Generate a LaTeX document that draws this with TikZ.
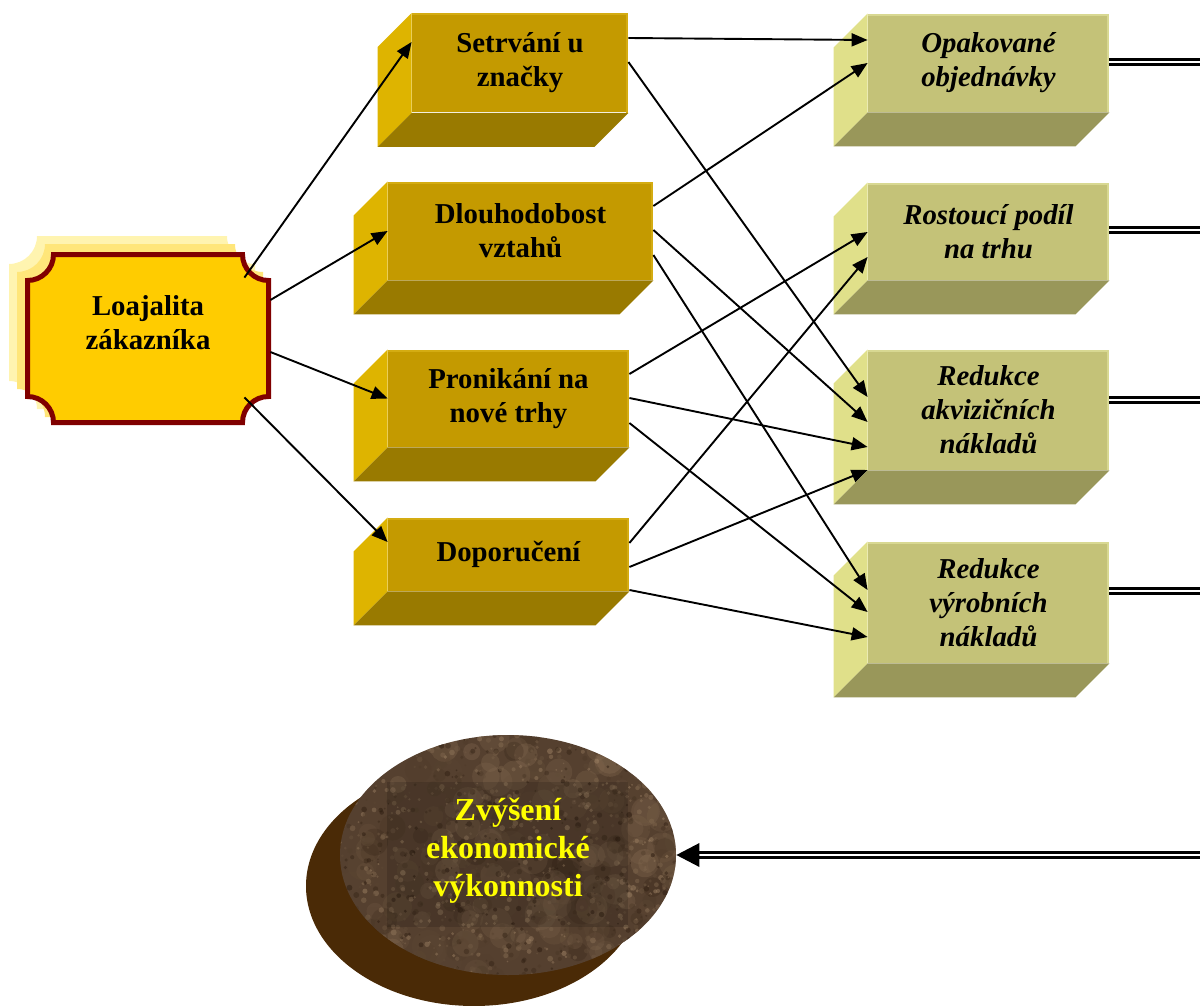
\documentclass[tikz,border=0pt]{standalone}
\usepackage{fontspec}
\setmainfont{Liberation Serif}
\usetikzlibrary{arrows.meta,shapes.geometric,calc}

\definecolor{goldfront}{HTML}{C49A00}
\definecolor{goldside}{HTML}{DEB400}
\definecolor{goldbottom}{HTML}{997A00}
\definecolor{goldedge}{HTML}{D4AC12}
\definecolor{khakifront}{HTML}{C4C278}
\definecolor{khakiside}{HTML}{E0E08A}
\definecolor{khakibottom}{HTML}{99975A}
\definecolor{khakiedge}{HTML}{D8D892}
\definecolor{loyalfill}{HTML}{FFCC00}
\definecolor{loyalrim}{HTML}{800000}
\definecolor{glowA}{HTML}{FFE67A}
\definecolor{glowB}{HTML}{FFF4B0}
\definecolor{earth}{HTML}{55402F}
\definecolor{earthdark}{HTML}{2A1A0E}
\definecolor{earthlight}{HTML}{A08466}
\definecolor{earthshadow}{HTML}{4A2A06}
\definecolor{titleyellow}{HTML}{FFFF00}

% rectangle with quarter-circle notches cut into its corners
\newcommand{\notchedrect}[5]{%
  (#1+#5,#2) -- (#3-#5,#2) arc[start angle=180,end angle=90,radius=#5]
  -- (#3,#4-#5) arc[start angle=270,end angle=180,radius=#5]
  -- (#1+#5,#4) arc[start angle=0,end angle=-90,radius=#5]
  -- (#1,#2+#5) arc[start angle=90,end angle=0,radius=#5] -- cycle}

% left and lower faces of a block whose front face is node #1
\newcommand{\depthfaces}[4]{%
  \fill[#2] (#1.north west) -- ([shift={(-34,34)}]#1.north west)
    -- ([shift={(-34,34)}]#1.south west) -- (#1.south west) -- cycle;
  \fill[#3] (#1.south west) -- ([shift={(-34,34)}]#1.south west)
    -- ([shift={(-34,34)}]#1.south east) -- (#1.south east) -- cycle;
  \draw[#4, line width=1.2pt] ([shift={(0,1.2)}]#1.north west)
    -- ([shift={(-1.2,1.2)}]#1.north east) -- ([shift={(-1.2,0)}]#1.south east);
}

\tikzset{
  boxtext/.style={font=\fontsize{14.4}{17}\selectfont\bfseries, align=center, inner sep=0pt},
  goldbox/.style={boxtext, rectangle, fill=goldfront},
  khakibox/.style={boxtext, rectangle, fill=khakifront,
    font=\fontsize{14.4}{17}\selectfont\bfseries\itshape},
  link/.style={line width=0.95pt, -{Triangle[length=8pt,width=6.5pt]}},
  flow/.style={line width=1.3pt, double, double distance=1.2pt},
}

\begin{document}
\begin{tikzpicture}[x=0.5pt, y=-0.5pt]
\useasboundingbox (0,0) rectangle (1200,1006);

% ---- customer loyalty plaque ----
\fill[glowB] \notchedrect{9}{236}{255}{409}{28};
\fill[glowA] \notchedrect{17}{244}{263}{417}{28};
\filldraw[fill=loyalfill, draw=loyalrim, line width=2.5pt]
  \notchedrect{27.5}{254.5}{268.5}{422.5}{26};
\node[minimum width=123pt, minimum height=86.5pt, inner sep=0pt] (L) at (148,338.5) {};
\node[boxtext] (Ltext) at (148,322.5) {Loajalita\\zákazníka};

% ---- behaviour blocks ----
\node[goldbox, minimum width=108pt, minimum height=49.5pt] (s1) at (520,63) {Setrvání u\\značky};
\node[goldbox, minimum width=132.5pt, minimum height=49pt] (s2) at (520.5,231) {Dlouhodobost\\vztahů};
\node[goldbox, minimum width=120.5pt, minimum height=48.5pt] (s3) at (508.5,398.5) {Pronikání na\\nové trhy};
\node[goldbox, minimum width=120.5pt, minimum height=36.5pt] (s4) at (508.5,554.5) {Doporučení};
\foreach \n in {s1,s2,s3,s4} {\depthfaces{\n}{goldside}{goldbottom}{goldedge}}

% ---- effect blocks ----
\node[khakibox, minimum width=120.5pt, minimum height=49pt] (r1) at (988.5,63) {Opakované\\objednávky};
\node[khakibox, minimum width=120.5pt, minimum height=48.5pt] (r2) at (988.5,231.5) {Rostoucí podíl\\na trhu};
\node[khakibox, minimum width=120.5pt, minimum height=60pt] (r3) at (988.5,410) {Redukce\\akvizičních\\nákladů};
\node[khakibox, minimum width=120.5pt, minimum height=60.5pt] (r4) at (988.5,602.5) {Redukce\\výrobních\\nákladů};
\foreach \n in {r1,r2,r3,r4} {\depthfaces{\n}{khakiside}{khakibottom}{khakiedge}}

% ---- economic performance disc ----
\node[ellipse, minimum width=168pt, minimum height=120pt, inner sep=0pt] (Z) at (508,855) {};
\fill[earthshadow] ([shift={(-34,31)}]Z.center) ellipse [x radius=168, y radius=120];
\begin{scope}
  \clip (Z.center) ellipse [x radius=168, y radius=120];
  \fill[earth] (330,725) rectangle (686,985);
  \pgfmathsetseed{4711}
  % broad mottled patches
  \foreach \k in {1,...,260} {
    \pgfmathsetmacro{\px}{335+346*rnd}
    \pgfmathsetmacro{\py}{730+250*rnd}
    \pgfmathsetmacro{\pr}{6+10*rnd}
    \pgfmathtruncatemacro{\pc}{100*rnd}
    \fill[earthlight!\pc!earthdark, opacity=0.22] (\px,\py) circle[radius=\pr];
  }
  % fine grain
  \foreach \k in {1,...,1400} {
    \pgfmathsetmacro{\px}{335+346*rnd}
    \pgfmathsetmacro{\py}{730+250*rnd}
    \pgfmathsetmacro{\pr}{0.8+2.2*rnd}
    \pgfmathtruncatemacro{\pc}{100*rnd}
    \fill[earthlight!\pc!earthdark, opacity=0.5] (\px,\py) circle[radius=\pr];
  }
  \fill[black, opacity=0.14] (387,782) rectangle (628,927);
\end{scope}
\node[font=\fontsize{16}{19}\selectfont\bfseries, text=titleyellow, align=center, inner sep=0pt]
  (Ztext) at (508,851) {Zvýšení\\ekonomické\\výkonnosti};

% ---- links from loyalty to behaviours ----
\draw[link] ([shift={(-27,26)}]L.north east) -- ([shift={(0,-21)}]s1.west);
\draw[link] ([shift={(-1,-38.5)}]L.east) -- (s2.west);
\draw[link] ([shift={(-1,13.5)}]L.east) -- (s3.west);
\draw[link] ([shift={(-27,-28)}]L.south east) -- ([shift={(0,-12.5)}]s4.west);

% ---- links from behaviours to effects ----
\draw[link] ([shift={(0,-25)}]s1.east) -- ([shift={(0,-23)}]r1.west);
\draw[link] ([shift={(0,-1)}]s1.east) -- ([shift={(0,-13)}]r3.west);
\draw[link] ([shift={(0,-25)}]s2.east) -- (r1.west);
\draw[link] ([shift={(0,-1)}]s2.east) -- ([shift={(0,12)}]r3.west);
\draw[link] ([shift={(0,24)}]s2.east) -- ([shift={(0,-12.5)}]r4.west);
\draw[link] ([shift={(0,-24.5)}]s3.east) -- ([shift={(0,0.5)}]r2.west);
\draw[link] ([shift={(0,-0.5)}]s3.east) -- ([shift={(0,37)}]r3.west);
\draw[link] ([shift={(0,24.5)}]s3.east) -- ([shift={(0,9.5)}]r4.west);
\draw[link] ([shift={(0,-11.5)}]s4.east) -- ([shift={(0,25.5)}]r2.west);
\draw[link] ([shift={(0,12.5)}]s4.east) -- ([shift={(0,60)}]r3.west);
\draw[link] ([shift={(0,35.5)}]s4.east) -- ([shift={(0,34.5)}]r4.west);

% ---- double flows to the right margin and back ----
\coordinate (e1) at (1200,62);
\coordinate (e2) at (1200,230);
\coordinate (e3) at (1200,400);
\coordinate (e4) at (1200,591);
\coordinate (e5) at (1200,855);
\foreach \n/\e in {r1/e1,r2/e2,r3/e3,r4/e4} {\draw[flow] (\n.east |- \e) -- (\e);}
\draw[flow, shorten >=11pt] (e5) -- (Z.east);
\fill[black] (Z.east) -- ++(23,-12) -- ++(0,24) -- cycle;
\end{tikzpicture}
\end{document}
